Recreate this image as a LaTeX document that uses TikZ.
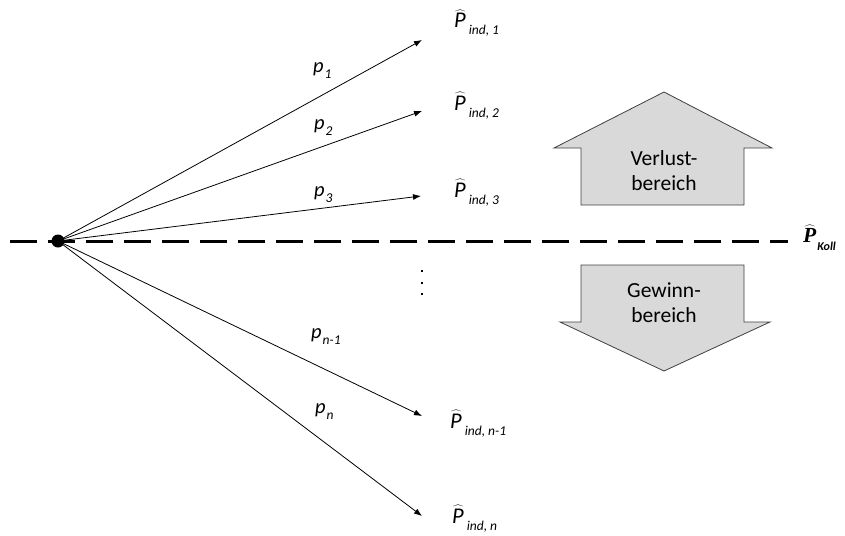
\documentclass[tikz,border=0pt]{standalone}
\usepackage{fontspec}
\setmainfont{Carlito}
\newfontfamily\serifP{Liberation Serif}
\usetikzlibrary{arrows.meta}
\newcommand{\Phat}[1]{{\fontsize{22.5}{26}\selectfont$\widehat{\mbox{\itshape P}}$}\kern3pt\raisebox{-7pt}{\fontsize{13.5}{14}\selectfont\itshape #1}}
\newcommand{\plab}[1]{{\fontsize{20.5}{24}\selectfont\itshape p}\kern1pt\raisebox{-6pt}{\fontsize{13.5}{14}\selectfont\itshape #1}}
\begin{document}
\begin{tikzpicture}[x=1pt,y=-1pt,
  every node/.style={font=\fontsize{21}{25}\selectfont},
  branch/.style={line width=0.8pt,-{Latex[length=8pt,width=6pt]}},
  lbl/.style={anchor=base west,inner sep=0pt},
  boxtext/.style={align=center,font=\fontsize{21.5}{25}\selectfont},
  dotmark/.style={fill=black,inner sep=0pt,minimum size=2.5pt},
  bigarrow/.style={draw=black!75,line width=0.8pt,fill=black!15}]
\useasboundingbox (0,0) rectangle (845,535);

% collective reference level
\draw[line width=3pt,dash pattern=on 27pt off 11pt] (10,241) -- (788,241);
\node[lbl] (koll) at (803,242) {{\fontsize{21.5}{25}\selectfont$\widehat{\mbox{\serifP\bfseries\itshape P}}$}\kern1pt\raisebox{-8pt}{\fontsize{12}{14}\selectfont\bfseries\itshape Koll}};

% origin
\node[circle,fill=black,inner sep=0pt,minimum size=13pt] (o) at (58,241) {};

% end points of the branches
\coordinate (e1) at (422,40);
\coordinate (e2) at (422,111);
\coordinate (e3) at (421,196);
\coordinate (en1) at (422,416);
\coordinate (en) at (422,516);

\draw[branch] (o.center) -- (e1);
\draw[branch] (o.center) -- (e2);
\draw[branch] (o.center) -- (e3);
\draw[branch] (o.center) -- (en1);
\draw[branch] (o.center) -- (en);

% probabilities
\node[lbl] (p1) at (313,72) {\plab{1}};
\node[lbl] (p2) at (314,129) {\plab{2}};
\node[lbl] (p3) at (314,196) {\plab{3}};
\node[lbl] (pn1) at (311,338) {\plab{n-1}};
\node[lbl] (pn) at (315,413) {\plab{n}};

% individual outcomes
\node[lbl] (P1) at (454,28) {\Phat{ind, 1}};
\node[lbl] (P2) at (454,110) {\Phat{ind, 2}};
\node[lbl] (P3) at (454,197) {\Phat{ind, 3}};
\node[lbl] (Pn1) at (450,428) {\Phat{ind, n-1}};
\node[lbl] (Pn) at (452,523) {\Phat{ind, n}};

% omitted branches
\node[dotmark] (d1) at (422,271) {};
\node[dotmark] (d2) at (422,283) {};
\node[dotmark] (d3) at (422,294) {};

% loss and gain regions
\draw[bigarrow] (664,92) -- (772,148) -- (744,148) -- (744,205) -- (581,205) -- (581,148) -- (554,148) -- cycle;
\node[boxtext] (loss) at (664,171) {Verlust-\\bereich};
\draw[bigarrow] (581,265) -- (744,265) -- (744,322) -- (770,322) -- (664,371) -- (560,322) -- (581,322) -- cycle;
\node[boxtext] (gain) at (664,303) {Gewinn-\\bereich};
\end{tikzpicture}
\end{document}
